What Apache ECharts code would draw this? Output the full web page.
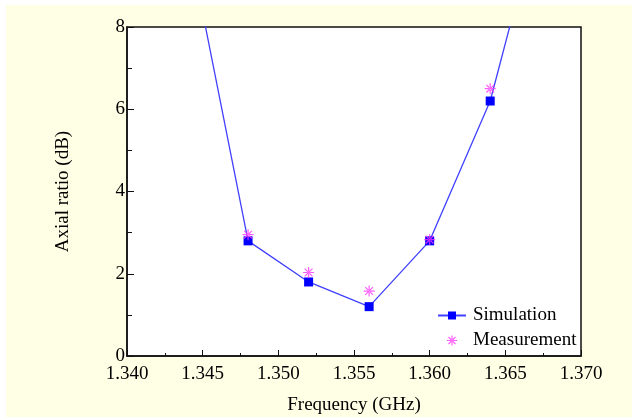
<!DOCTYPE html>
<html>
<head>
<meta charset="utf-8">
<script src="https://cdn.jsdelivr.net/npm/echarts@6/dist/echarts.min.js"></script>
<style>
    html, body { margin: 0; padding: 0; background: #fff; }
    #chart { width: 632px; height: 417px; }
</style>
</head>
<body>
<div id="chart"></div>
<script>
/* ===========================
   Data
=========================== */

// simulation curve (end points run off the top of the plot)
const simFreq = [1.344, 1.348, 1.352, 1.356, 1.360, 1.364, 1.368];
const simValue = [10.2, 2.8, 1.8, 1.2, 2.8, 6.2, 11.8];
const simMarked = [false, true, true, true, true, true, false];

const measFreq = [1.348, 1.352, 1.356, 1.360, 1.364];
const measValue = [2.95, 2.03, 1.58, 2.83, 6.5];

const xTicks = [1.340, 1.345, 1.350, 1.355, 1.360, 1.365, 1.370];
const yTicks = [0, 2, 4, 6, 8];

const FONT = "Liberation Serif";
const FS = 19;

const STAR = "path://M-5,-0.55h10v1.1h-10z M-0.55,-5h1.1v10h-1.1z " +
    "M-3.9,-3.1L3.1,3.9L3.9,3.1L-3.1,-3.9z M3.1,-3.9L3.9,-3.1L-3.1,3.9L-3.9,3.1z";

/* ===========================
   Chart
=========================== */

const chart = echarts.init(document.getElementById("chart"));

chart.setOption({

    animation: false,
    backgroundColor: "#ffffe6",

    graphic: [
        { type: "rect", left: 0, top: 0, shape: { width: 6, height: 417 }, style: { fill: "#fff" } },
        { type: "rect", left: 0, top: 0, shape: { width: 632, height: 5 }, style: { fill: "#fff" } }
    ],

    grid: {
        left: 127,
        right: 51,
        top: 27,
        bottom: 61,
        outerBoundsMode: "none",
        show: true,
        backgroundColor: "#fff",
        borderColor: "#111",
        borderWidth: 1.5
    },

    legend: {
        orient: "vertical",
        left: 432,
        top: 301,
        itemWidth: 28,
        itemHeight: 10,
        itemGap: 6,
        textStyle: {
            fontFamily: FONT,
            fontSize: FS,
            color: "#000",
            padding: [0, 0, 0, 2]
        },
        data: ["Simulation", "Measurement"]
    },

    xAxis: {
        type: "value",
        min: xTicks[0],
        max: xTicks[xTicks.length - 1],
        interval: 0.005,
        name: "Frequency (GHz)",
        nameLocation: "middle",
        nameGap: 40,
        nameTextStyle: { fontFamily: FONT, fontSize: FS, color: "#000" },
        axisLine: { lineStyle: { color: "#111", width: 1.5 } },
        axisTick: { inside: true, length: 6, lineStyle: { color: "#111" } },
        minorTick: { show: true, splitNumber: 2, length: 3, lineStyle: { color: "#111" } },
        splitLine: { show: false },
        axisLabel: {
            fontFamily: FONT,
            fontSize: FS,
            color: "#000",
            margin: 9,
            formatter: v => v.toFixed(3)
        }
    },

    yAxis: {
        type: "value",
        min: yTicks[0],
        max: yTicks[yTicks.length - 1],
        interval: 2,
        name: "Axial ratio (dB)",
        nameLocation: "middle",
        nameGap: 54,
        nameTextStyle: { fontFamily: FONT, fontSize: FS, color: "#000" },
        axisLine: { lineStyle: { color: "#111", width: 1.5 } },
        axisTick: { inside: true, length: 7, lineStyle: { color: "#111" } },
        minorTick: { show: true, splitNumber: 2, length: 5, lineStyle: { color: "#111" } },
        splitLine: { show: false },
        axisLabel: {
            fontFamily: FONT,
            fontSize: FS,
            color: "#000",
            margin: 2
        }
    },

    series: [
        {
            name: "Simulation",
            type: "line",
            symbol: "rect",
            symbolSize: 9,
            clip: true,
            lineStyle: { color: "#4040ff", width: 1.3 },
            itemStyle: { color: "#0000ff" },
            data: simFreq.map((f, i) => ({
                value: [f, simValue[i]],
                symbol: simMarked[i] ? "rect" : "none"
            }))
        },
        {
            name: "Measurement",
            type: "scatter",
            symbol: STAR,
            symbolSize: 11,
            itemStyle: { color: "#ff33ff" },
            z: 3,
            data: measFreq.map((f, i) => [f, measValue[i]])
        }
    ]

});
</script>
</body>
</html>
